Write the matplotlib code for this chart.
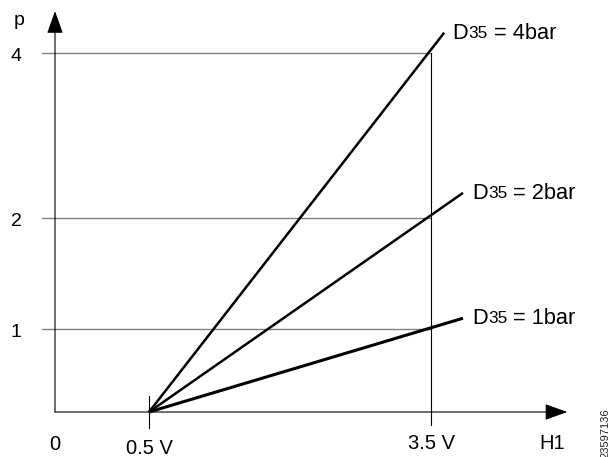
import matplotlib
matplotlib.use("Agg")
import matplotlib.pyplot as plt

plt.rcParams['font.family'] = ['Liberation Sans', 'DejaVu Sans']

# schematic coordinates: origin where the axes cross
pressures = ["4bar", "2bar", "1bar"]
level_labels = ["4", "2", "1"]
level_y = [4.33, 2.34, 1.0]
start_x, start_y = 1.0, 0.0          # the 0.5 V point
end_x = [4.14, 4.34, 4.34]
end_y = [4.57, 2.64, 1.13]
line_w = [1.8, 1.8, 2.2]
label_x = [4.23, 4.44, 4.44]
label_y = [4.50, 2.57, 1.06]

xtick_pos = [0.0, 1.0, 4.0]
xtick_labels = ["0", "0.5 V", "3.5 V"]
xtick_base = [-0.458, -0.50, -0.446]

fig = plt.figure(figsize=(6.1, 4.57), dpi=100)
ax = fig.add_axes([0, 0, 1, 1])
ax.set_xlim(-0.585, 5.904)
ax.set_ylim(-0.542, 4.964)
ax.axis("off")

# horizontal grid lines for p levels
for y, lab in zip(level_y, level_labels):
    ax.plot([-0.14, 4.0], [y, y], color="#808080", lw=1.0, zorder=1)
    ax.text(-0.415, y - 0.1, lab, fontsize=14, ha="center", va="baseline")

# vertical line at 3.5 V and tick at 0.5 V
ax.plot([4.0, 4.0], [level_y[0], -0.157], color="k", lw=0.8, zorder=2)
ax.plot([1.0, 1.0], [0.193, -0.193], color="k", lw=0.8, zorder=2)

# axes with arrows
arrow = dict(arrowstyle="-|>,head_length=1.4,head_width=0.5",
             mutation_scale=10, color="k", lw=0.8, shrinkA=0, shrinkB=0)
ax.annotate("", xy=(5.45, 0), xytext=(0, 0), arrowprops=arrow)
ax.annotate("", xy=(0, 4.83), xytext=(0, 0), arrowprops=arrow)

# D35 lines
for ex, ey, lw, lab, lx, ly in zip(end_x, end_y, line_w, pressures, label_x, label_y):
    ax.plot([start_x, ex], [start_y, ey], color="k", lw=lw,
            solid_capstyle="butt", zorder=3)
    t1 = ax.text(lx, ly, "D", fontsize=15.7, ha="left", va="baseline")
    t2 = ax.annotate("35", xy=(1, ly + 0.01), xycoords=(t1, "data"),
                     fontsize=12.4, ha="left", va="baseline")
    ax.annotate(" = " + lab, xy=(1, ly), xycoords=(t2, "data"),
                fontsize=15.7, ha="left", va="baseline")

# axis labels
ax.text(-0.383, 4.66, "p", fontsize=14, ha="center", va="baseline")
for xp, lab, yb in zip(xtick_pos, xtick_labels, xtick_base):
    ax.text(xp, yb, lab, fontsize=14.5, ha="center", va="baseline")
ax.text(5.29, -0.446, "H1", fontsize=14.5, ha="center", va="baseline")

ax.text(5.86, -0.25, "23597136", fontsize=8, rotation=90,
        ha="center", va="center", color="#222222")

fig.savefig("out.png", dpi=100)
